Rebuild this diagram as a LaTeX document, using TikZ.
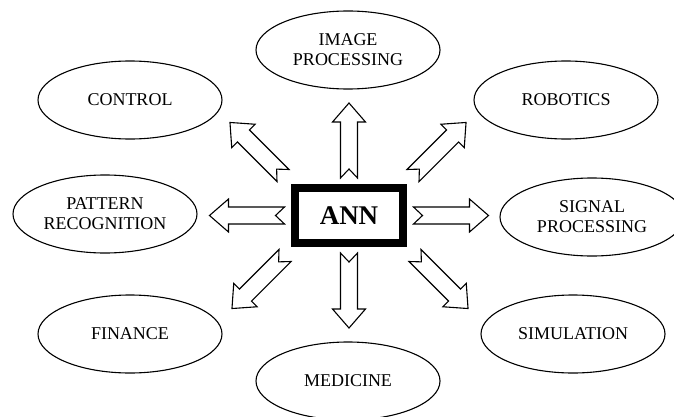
\documentclass[tikz,border=0pt]{standalone}
\usepackage{fontspec}
\setmainfont{Liberation Serif}
\usetikzlibrary{shapes.geometric,calc}
\tikzset{
  app/.style={draw, line width=1.1pt, ellipse, minimum width=184pt, minimum height=78pt,
    inner sep=0pt, align=center, font=\fontsize{18}{20}\selectfont},
  core/.style={draw, line width=8pt, rectangle, minimum width=108.5pt, minimum height=55pt,
    inner sep=0pt, font=\fontsize{27}{27}\selectfont\bfseries},
  arrowline/.style={draw, line width=1.1pt, fill=white, line join=miter},
  blockarrow/.pic={\path[arrowline] (0,8.5) -- (56,8.5) -- (56,16.5) -- (75,0) -- (56,-16.5)
    -- (56,-8.5) -- (0,-8.5) -- (9,0) -- cycle;}
}
\begin{document}
\begin{tikzpicture}[x=1pt,y=1pt]
\useasboundingbox (0,0) rectangle (674,416);
\node[app] (img) at (348,366) {IMAGE\\PROCESSING};
\node[app] (ctrl) at (130,316) {CONTROL};
\node[app] (rob) at (566,316) {ROBOTICS};
\node[app] (pat) at (105,202) {PATTERN\\RECOGNITION};
\node[app] (sig) at (592,199) {SIGNAL\\PROCESSING};
\node[app] (fin) at (130,82) {FINANCE};
\node[app] (sim) at (573,82) {SIMULATION};
\node[app] (med) at (348,35) {MEDICINE};
\node[core] (ann) at (349,200.5) {ANN};
\pic[rotate=90] at ($(ann.center)+(0,37.5)$) {blockarrow};
\pic[rotate=-90] at ($(ann.center)+(0,-37.5)$) {blockarrow};
\pic[rotate=0] at ($(ann.center)+(64.5,0)$) {blockarrow};
\pic[rotate=180] at ($(ann.center)+(-64.5,0)$) {blockarrow};
\pic[rotate=135] at ($(ann.center)+(-66,40)$) {blockarrow};
\pic[rotate=45] at ($(ann.center)+(64,40)$) {blockarrow};
\pic[rotate=225] at ($(ann.center)+(-64,-40)$) {blockarrow};
\pic[rotate=-45] at ($(ann.center)+(66,-40)$) {blockarrow};
\end{tikzpicture}
\end{document}
